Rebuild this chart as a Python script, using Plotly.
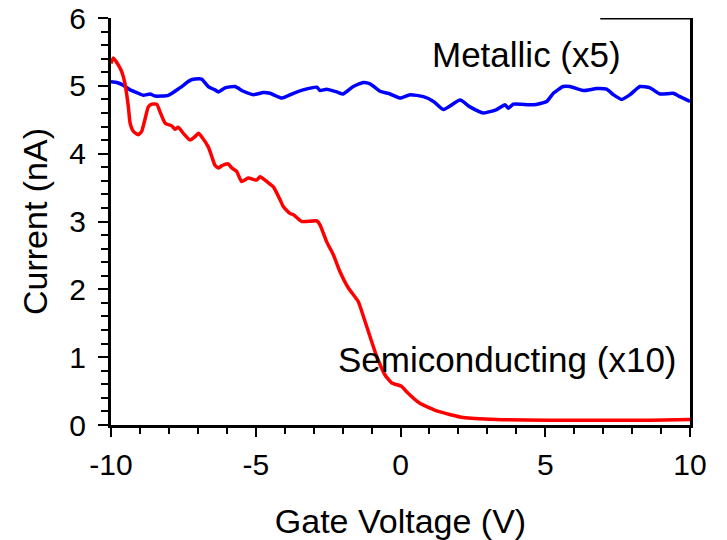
import plotly.graph_objects as go

# Semiconducting (x10) - red
v_semi = [-10.0, -9.92, -9.75, -9.63, -9.52, -9.40, -9.34, -9.23, -9.06, -8.94, -8.83, -8.71,
          -8.59, -8.42, -8.31, -8.13, -7.90, -7.79, -7.68, -7.50, -7.27, -7.10, -6.98, -6.87,
          -6.64, -6.52, -6.41, -6.29, -6.18, -5.95, -5.83, -5.66, -5.49, -5.26, -4.97, -4.85,
          -4.62, -4.39, -4.16, -4.05, -3.82, -3.70, -3.41, -2.89, -2.78, -2.55, -2.32, -2.09,
          -1.80, -1.46, -1.28, -1.05, -0.82, -0.54, -0.30, 0.04, 0.21, 0.67, 1.31, 2.17,
          3.32, 5.16, 6.89, 8.62, 10.0]
i_semi = [5.33, 5.41, 5.31, 5.21, 5.04, 4.69, 4.45, 4.33, 4.28, 4.33, 4.50, 4.69,
          4.73, 4.73, 4.62, 4.45, 4.41, 4.36, 4.39, 4.30, 4.20, 4.25, 4.30, 4.25,
          4.10, 3.96, 3.83, 3.79, 3.82, 3.85, 3.79, 3.74, 3.59, 3.64, 3.61, 3.66,
          3.59, 3.51, 3.32, 3.22, 3.12, 3.10, 3.00, 3.01, 2.95, 2.70, 2.51, 2.26,
          2.02, 1.82, 1.60, 1.30, 1.01, 0.74, 0.62, 0.57, 0.49, 0.32, 0.20, 0.11,
          0.08, 0.07, 0.07, 0.07, 0.08]

# Metallic (x5) - blue
v_metal = [-10.0, -9.80, -9.58, -9.34, -9.11, -8.88, -8.65, -8.48, -8.02, -7.62, -7.27, -7.10,
           -6.87, -6.64, -6.41, -6.29, -6.06, -5.72, -5.43, -5.08, -4.74, -4.51, -4.10, -3.70,
           -3.36, -2.89, -2.78, -2.55, -2.20, -1.98, -1.63, -1.28, -1.05, -0.71, -0.36, -0.02,
           0.33, 0.79, 1.14, 1.48, 2.06, 2.40, 2.86, 3.32, 3.61, 3.73, 3.90, 4.59,
           5.05, 5.28, 5.62, 5.85, 6.31, 6.78, 7.12, 7.35, 7.64, 7.93, 8.27, 8.62,
           8.96, 9.42, 9.65, 10.0]
i_metal = [5.06, 5.05, 5.01, 4.94, 4.90, 4.86, 4.88, 4.85, 4.86, 4.97, 5.08, 5.10,
           5.10, 4.99, 4.94, 4.91, 4.97, 4.99, 4.92, 4.87, 4.90, 4.89, 4.82, 4.89,
           4.94, 4.98, 4.93, 4.95, 4.91, 4.88, 4.99, 5.05, 5.03, 4.92, 4.88, 4.82,
           4.87, 4.84, 4.77, 4.65, 4.79, 4.69, 4.60, 4.65, 4.72, 4.67, 4.73, 4.72,
           4.77, 4.89, 4.99, 4.99, 4.93, 4.96, 4.95, 4.87, 4.80, 4.87, 4.99, 4.97,
           4.88, 4.89, 4.84, 4.77]

x_ticks = [-10, -5, 0, 5, 10]
y_ticks = [0, 1, 2, 3, 4, 5, 6]

FONT = "Liberation Sans, Arial, sans-serif"

fig = go.Figure()
fig.add_trace(go.Scatter(x=v_metal, y=i_metal, mode="lines",
                         line=dict(color="#0000FF", width=3.5, shape="spline", smoothing=0.5),
                         showlegend=False))
fig.add_trace(go.Scatter(x=v_semi, y=i_semi, mode="lines",
                         line=dict(color="#FF0000", width=3.5, shape="spline", smoothing=0.5),
                         showlegend=False))

fig.update_layout(
    width=727, height=540,
    margin=dict(l=111, r=37, t=18, b=115, autoexpand=False),
    paper_bgcolor="white", plot_bgcolor="white",
    font=dict(family=FONT, color="black"),
    xaxis=dict(range=[-10, 10], tickvals=x_ticks, ticktext=[str(t) for t in x_ticks],
               automargin=False, ticklabeloverflow="allow",
               showgrid=False, zeroline=False, showline=True, linecolor="black", linewidth=3,
               ticks="outside", ticklen=9, tickwidth=2, tickcolor="black",
               minor=dict(dtick=1, ticks="outside", ticklen=6, tickwidth=2, tickcolor="black"),
               tickfont=dict(size=30), ticklabelstandoff=2,
               title=dict(text="Gate Voltage (V)", font=dict(size=34), standoff=30)),
    yaxis=dict(range=[0, 6], tickvals=y_ticks, ticktext=[str(t) for t in y_ticks],
               automargin=False, ticklabeloverflow="allow",
               showgrid=False, zeroline=False, showline=True, linecolor="black", linewidth=3,
               mirror=True,
               ticks="outside", ticklen=10, tickwidth=2, tickcolor="black",
               minor=dict(dtick=0.2, ticks="outside", ticklen=7, tickwidth=2, tickcolor="black"),
               tickfont=dict(size=30), ticklabelstandoff=6,
               title=dict(text="Current (nA)", font=dict(size=34), standoff=12)),
    yaxis2=dict(range=[0, 6], overlaying="y", side="left", anchor="x", automargin=False,
                tickvals=y_ticks, showticklabels=False, showgrid=False, zeroline=False,
                showline=False, ticks="inside", ticklen=6, tickwidth=2, tickcolor="black"),
    annotations=[
        dict(x=4.34, y=5.46, xref="x", yref="y", text="Metallic (x5)", showarrow=False,
             font=dict(size=35, family=FONT, color="black"), xanchor="center", yanchor="middle"),
        dict(x=3.70, y=0.97, xref="x", yref="y", text="Semiconducting (x10)", showarrow=False,
             font=dict(size=35, family=FONT, color="black"), xanchor="center", yanchor="middle"),
    ],
    shapes=[dict(type="line", xref="x", yref="y", x0=6.9, x1=10, y0=6, y1=6,
                 line=dict(color="black", width=3))],
)

# remove the default 8px page margin so the 727x540 figure fills the window exactly
fig.write_html("out.html", config={"displayModeBar": False},
               post_script="document.body.style.margin='0';document.body.style.overflow='hidden';")
